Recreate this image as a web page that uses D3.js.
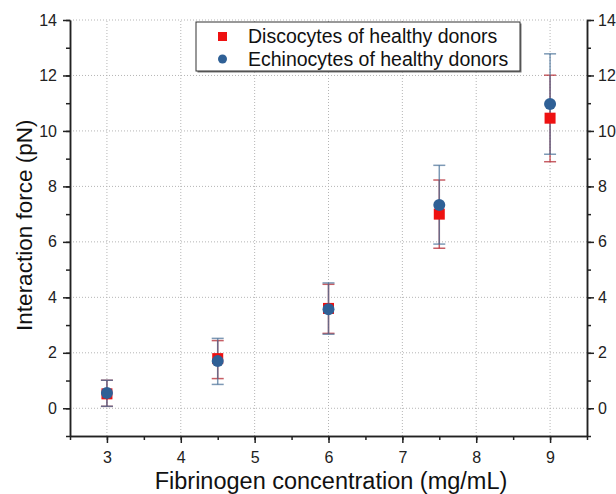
<!DOCTYPE html>
<html>
<head>
<meta charset="utf-8">
<script src="https://cdn.jsdelivr.net/npm/d3@7"></script>
<style>
    body { margin: 0; background: #fff; }
    svg text { font-family: "Liberation Sans", Arial, sans-serif; fill: #111; }
</style>
</head>
<body>
<svg class="chart"></svg>
<script>
var concentration = [3, 4.5, 6, 7.5, 9];
var discoMean = [0.52, 1.79, 3.6, 7.0, 10.46];
var discoLow = [0.07, 1.07, 2.7, 5.77, 8.89];
var discoHigh = [1.01, 2.44, 4.47, 8.23, 12.01];
var echinoMean = [0.55, 1.70, 3.57, 7.33, 10.97];
var echinoLow = [0.07, 0.86, 2.67, 5.92, 9.16];
var echinoHigh = [1.01, 2.52, 4.52, 8.76, 12.78];
var xTicks = [3, 4, 5, 6, 7, 8, 9];
var yTicks = [0, 2, 4, 6, 8, 10, 12, 14];

var width = 616, height = 494;
var margin = {left: 70, right: 29, top: 20, bottom: 58};

var chart = d3.select('.chart')
    .attr('width', width)
    .attr('height', height);

var x = d3.scaleLinear().domain([2.5, 9.5]).range([margin.left, width - margin.right]);
var y = d3.scaleLinear().domain([-1, 14]).range([height - margin.bottom, margin.top]);

// grid
var grid = chart.append('g').attr('class', 'grid')
    .style('stroke', '#b5b5b5').style('stroke-dasharray', '1,2').style('stroke-width', 1);
grid.selectAll('line.gx').data(xTicks).enter().append('line')
    .attr('x1', function(d){ return x(d); }).attr('x2', function(d){ return x(d); })
    .attr('y1', y(-1)).attr('y2', y(14));
grid.selectAll('line.gy').data(yTicks).enter().append('line')
    .attr('x1', x(2.5)).attr('x2', x(9.5))
    .attr('y1', function(d){ return y(d); }).attr('y2', function(d){ return y(d); });

// axes
function styleAxis(g){
    g.selectAll('path').style('stroke', '#222').style('stroke-width', 1.5);
    g.selectAll('line').style('stroke', '#222').style('stroke-width', 1.5);
    g.selectAll('text').style('font-size', '16px').style('fill', '#222');
}

var minorX = d3.range(2.5, 9.51, 0.5);
var minorY = d3.range(-1, 14.01, 1);

chart.append('g').attr('transform', 'translate(0,' + y(-1) + ')')
    .call(d3.axisBottom(x).tickValues(minorX).tickSize(4).tickFormat('').tickSizeOuter(0))
    .call(styleAxis);
chart.append('g').attr('transform', 'translate(0,' + y(-1) + ')')
    .call(d3.axisBottom(x).tickValues(xTicks).tickSize(7).tickPadding(9).tickFormat(d3.format('d')).tickSizeOuter(0))
    .call(styleAxis);

chart.append('g').attr('transform', 'translate(' + x(2.5) + ',0)')
    .call(d3.axisLeft(y).tickValues(minorY).tickSize(4).tickFormat('').tickSizeOuter(0))
    .call(styleAxis);
chart.append('g').attr('transform', 'translate(' + x(2.5) + ',0)')
    .call(d3.axisLeft(y).tickValues(yTicks).tickSize(7).tickPadding(6).tickSizeOuter(0))
    .call(styleAxis);

chart.append('g').attr('transform', 'translate(' + x(9.5) + ',0)')
    .call(d3.axisRight(y).tickValues(minorY).tickSize(4).tickFormat('').tickSizeOuter(0))
    .call(styleAxis);
chart.append('g').attr('transform', 'translate(' + x(9.5) + ',0)')
    .call(d3.axisRight(y).tickValues(yTicks).tickSize(7).tickPadding(4).tickSizeOuter(0))
    .call(styleAxis);

// axis titles
chart.append('text')
    .attr('x', 331).attr('y', 489)
    .attr('text-anchor', 'middle').style('font-size', '23.5px')
    .text('Fibrinogen concentration (mg/mL)');
chart.append('text')
    .attr('transform', 'translate(32,' + y(6.6) + ') rotate(-90)')
    .attr('text-anchor', 'middle').style('font-size', '22.5px')
    .text('Interaction force (pN)');

// error bars
function errorBars(mean, low, high, colour, capW){
    var g = chart.append('g').style('stroke', colour).style('stroke-width', 1.5);
    var idx = d3.range(mean.length);
    g.selectAll('line.v').data(idx).enter().append('line')
        .attr('x1', function(i){ return x(concentration[i]); })
        .attr('x2', function(i){ return x(concentration[i]); })
        .attr('y1', function(i){ return y(low[i]); })
        .attr('y2', function(i){ return y(high[i]); });
    [low, high].forEach(function(arr){
        g.selectAll(null).data(idx).enter().append('line')
            .attr('x1', function(i){ return x(concentration[i]) - capW; })
            .attr('x2', function(i){ return x(concentration[i]) + capW; })
            .attr('y1', function(i){ return y(arr[i]); })
            .attr('y2', function(i){ return y(arr[i]); });
    });
}
errorBars(discoMean, discoLow, discoHigh, 'rgba(180,40,50,0.75)', 6);
errorBars(echinoMean, echinoLow, echinoHigh, 'rgba(70,110,150,0.7)', 6);

// markers
chart.append('g').selectAll('rect').data(d3.range(discoMean.length)).enter().append('rect')
    .attr('x', function(i){ return x(concentration[i]) - 5.5; })
    .attr('y', function(i){ return y(discoMean[i]) - 5.5; })
    .attr('width', 11).attr('height', 11)
    .style('fill', '#ee1111');
chart.append('g').selectAll('circle').data(d3.range(echinoMean.length)).enter().append('circle')
    .attr('cx', function(i){ return x(concentration[i]); })
    .attr('cy', function(i){ return y(echinoMean[i]); })
    .attr('r', 6)
    .style('fill', '#2f6096');

// legend
var legend = chart.append('g').attr('transform', 'translate(196,22)');
legend.append('rect').attr('x', 1.5).attr('y', 1.5).attr('width', 324).attr('height', 49)
    .style('fill', '#777');
legend.append('rect').attr('width', 324).attr('height', 49)
    .style('fill', '#fff').style('stroke', '#333').style('stroke-width', 1);
legend.append('rect').attr('x', 22).attr('y', 10).attr('width', 9).attr('height', 9)
    .style('fill', '#ee1111');
legend.append('text').attr('x', 52).attr('y', 21).style('font-size', '19.5px')
    .text('Discocytes of healthy donors');
legend.append('circle').attr('cx', 26.5).attr('cy', 37).attr('r', 4.5)
    .style('fill', '#2f6096');
legend.append('text').attr('x', 52).attr('y', 44).style('font-size', '19.5px')
    .text('Echinocytes of healthy donors');
</script>
</body>
</html>
